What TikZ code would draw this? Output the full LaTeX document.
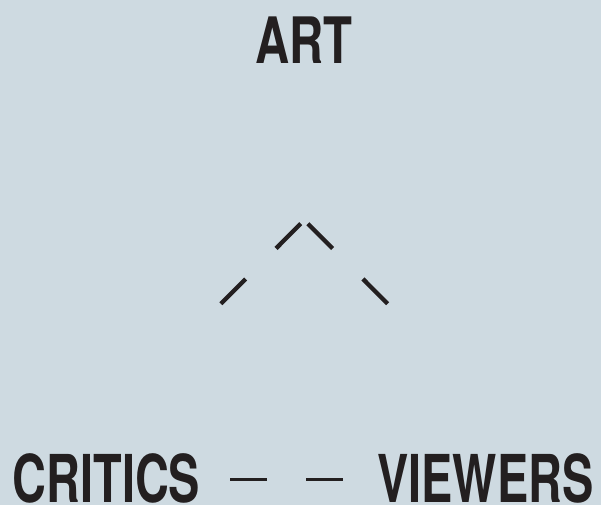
\documentclass[tikz,border=0pt]{standalone}
\usepackage{fontspec}
\setmainfont[FakeStretch=0.74]{TeX Gyre Heros}
\newfontfamily\condb[FakeStretch=0.71]{TeX Gyre Heros}
\definecolor{bgblue}{RGB}{206,218,225}
\definecolor{ink}{RGB}{35,31,32}
\begin{document}
\begin{tikzpicture}[x=1pt,y=-1pt,
  label/.style={inner sep=0pt,anchor=base,text depth=0pt,text=ink,font=\bfseries\fontsize{64}{64}\selectfont},
  biglabel/.style={label,font=\condb\bfseries\fontsize{66}{66}\selectfont},
  dashline/.style={draw=ink,line width=4.3pt,dash pattern=on 35pt off 43pt},
  hdash/.style={draw=ink,line width=3.6pt,dash pattern=on 37pt off 39pt}]
\fill[bgblue] (0,0) rectangle (601,505);
\useasboundingbox (0,0) rectangle (601,505);
\node[label] (art) at (304,64) {ART};
\node[biglabel] (critics) at (106.5,502) {CRITICS};
\node[biglabel] (viewers) at (485.5,502) {VIEWERS};
\coordinate (la) at (300.7,223.7);
\coordinate (lb) at (220.3,304.3);
\coordinate (ra) at (307.8,223.7);
\coordinate (rb) at (388.2,304.3);
\coordinate (ha) at (230,479.3);
\coordinate (hb) at (343,479.3);
\draw[dashline] (la) -- (lb);
\draw[dashline] (ra) -- (rb);
\draw[hdash] (ha) -- (hb);
\end{tikzpicture}
\end{document}
